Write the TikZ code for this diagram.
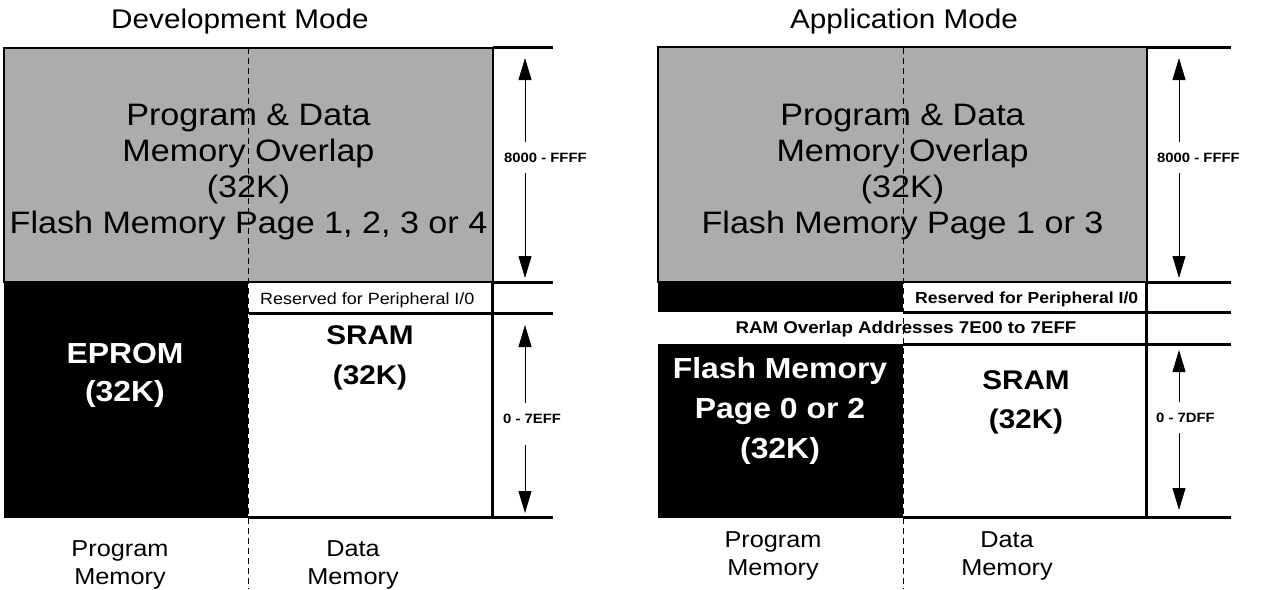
\documentclass[tikz,border=0pt]{standalone}
\usepackage{fontspec}
\setmainfont[FakeStretch=1.1]{Liberation Sans}
\usetikzlibrary{arrows.meta}
\definecolor{graybg}{HTML}{ACACAC}
\begin{document}
\begin{tikzpicture}[x=1pt,y=-1pt,
  graytxt/.style={font=\fontsize{31}{36}\selectfont, align=center, inner sep=0pt},
  titletxt/.style={font=\fontsize{27}{32}\selectfont, anchor=base, inner sep=0pt},
  bigbold/.style={font=\fontsize{29}{38}\selectfont\bfseries, align=center, inner sep=0pt},
  midbold/.style={font=\fontsize{27}{40}\selectfont\bfseries, align=center, inner sep=0pt},
  memtxt/.style={font=\fontsize{23}{28}\selectfont, align=center, inner sep=0pt},
  smalltxt/.style={font=\fontsize{16.3}{19}\selectfont, anchor=base west, inner sep=0pt},
  smallbold/.style={font=\fontsize{16}{19}\selectfont\bfseries, inner sep=0pt},
  addr/.style={font=\fontsize{13.5}{16}\selectfont\bfseries, anchor=base west, inner sep=0pt},
  heavy/.style={line width=3pt},
  boxline/.style={draw=black, line width=1.5pt},
  arr/.style={line width=0.9pt, -{Triangle[length=22pt,width=13pt]}},
  divider/.style={dash pattern=on 6pt off 4pt, line width=0.8pt}]
\fill[white] (0,0) rectangle (1265,589);
\useasboundingbox (0,0) rectangle (1265,589);

% ---------- Development mode ----------
\fill[black] (4,282) rectangle (248,518);
\filldraw[fill=graybg, boxline] (4,48) rectangle (493,282);
\draw[heavy] (493,47) -- (553,47);
\draw[heavy] (493,282) -- (553,282);
\draw[heavy] (249,313) -- (553,313);
\draw[heavy] (248,517) -- (553,517);
\draw[heavy] (492,282) -- (492,517);

% ---------- Application mode ----------
\fill[black] (658,282) rectangle (903,312);
\fill[black] (658,344) rectangle (903,518);
\filldraw[fill=graybg, boxline] (658,47) rectangle (1147,282);
\draw[heavy] (1147,47) -- (1231,47);
\draw[heavy] (1147,282) -- (1231,282);
\draw[heavy] (903,312) -- (1231,312);
\draw[heavy] (903,344) -- (1231,344);
\draw[heavy] (903,517) -- (1231,517);
\draw[heavy] (1146,282) -- (1146,517);

% ---------- texts ----------
\node[titletxt] (t1) at (240,28) {Development Mode};
\node[titletxt] (t2) at (904,28) {Application Mode};
\node[graytxt] (ov1) at (248.5,172) {Program \& Data\\Memory Overlap\\(32K)\\Flash Memory Page 1, 2, 3 or 4};
\node[graytxt] (ov2) at (902.5,172) {Program \& Data\\Memory Overlap\\(32K)\\Flash Memory Page 1 or 3};
\node[bigbold, text=white] (eprom) at (125,375) {EPROM\\(32K)};
\node[midbold] (sram1) at (370,358) {SRAM\\(32K)};
\node[bigbold, text=white, font=\fontsize{29}{40}\selectfont\bfseries] (flash) at (780,411) {Flash Memory\\Page 0 or 2\\(32K)};
\node[midbold, font=\fontsize{27}{39}\selectfont\bfseries] (sram2) at (1026,402) {SRAM\\(32K)};
\node[smalltxt] (res1) at (260,304) {Reserved for Peripheral I/0};
\node[smallbold, anchor=base west] (res2) at (915,303) {Reserved for Peripheral I/0};
\node[smallbold, font=\fontsize{17}{20}\selectfont\bfseries, anchor=base] (ram) at (906,333) {RAM Overlap Addresses 7E00 to 7EFF};
\node[memtxt] (pm1) at (120,565) {Program\\Memory};
\node[memtxt] (dm1) at (353,565) {Data\\Memory};
\node[memtxt] (pm2) at (773,556) {Program\\Memory};
\node[memtxt] (dm2) at (1007,556) {Data\\Memory};
\node[addr] (a1) at (504,162) {8000 - FFFF};
\node[addr] (a2) at (503,423) {0 - 7EFF};
\node[addr] (a3) at (1157,162) {8000 - FFFF};
\node[addr] (a4) at (1156,422) {0 - 7DFF};

% ---------- arrows ----------
\coordinate (A1t) at (525,58);  \coordinate (A1a) at (525,142);
\coordinate (A1b) at (525,173); \coordinate (A1d) at (525,278);
\coordinate (A2t) at (525,325); \coordinate (A2a) at (525,403);
\coordinate (A2b) at (525,445); \coordinate (A2d) at (525,513);
\coordinate (A3t) at (1179,58);  \coordinate (A3a) at (1179,142);
\coordinate (A3b) at (1179,173); \coordinate (A3d) at (1179,278);
\coordinate (A4t) at (1179,350); \coordinate (A4a) at (1179,402);
\coordinate (A4b) at (1179,433); \coordinate (A4d) at (1179,510);
\draw[arr] (A1a) -- (A1t); \draw[arr] (A1b) -- (A1d);
\draw[arr] (A2a) -- (A2t); \draw[arr] (A2b) -- (A2d);
\draw[arr] (A3a) -- (A3t); \draw[arr] (A3b) -- (A3d);
\draw[arr] (A4a) -- (A4t); \draw[arr] (A4b) -- (A4d);

% ---------- dashed dividers ----------
\coordinate (D1t) at (248.5,48); \coordinate (D1b) at (248.5,589);
\coordinate (D2t) at (903,48);   \coordinate (D2b) at (903,589);
\draw[divider] (D1t) -- (D1b);
\draw[divider] (D2t) -- (D2b);
\end{tikzpicture}
\end{document}
